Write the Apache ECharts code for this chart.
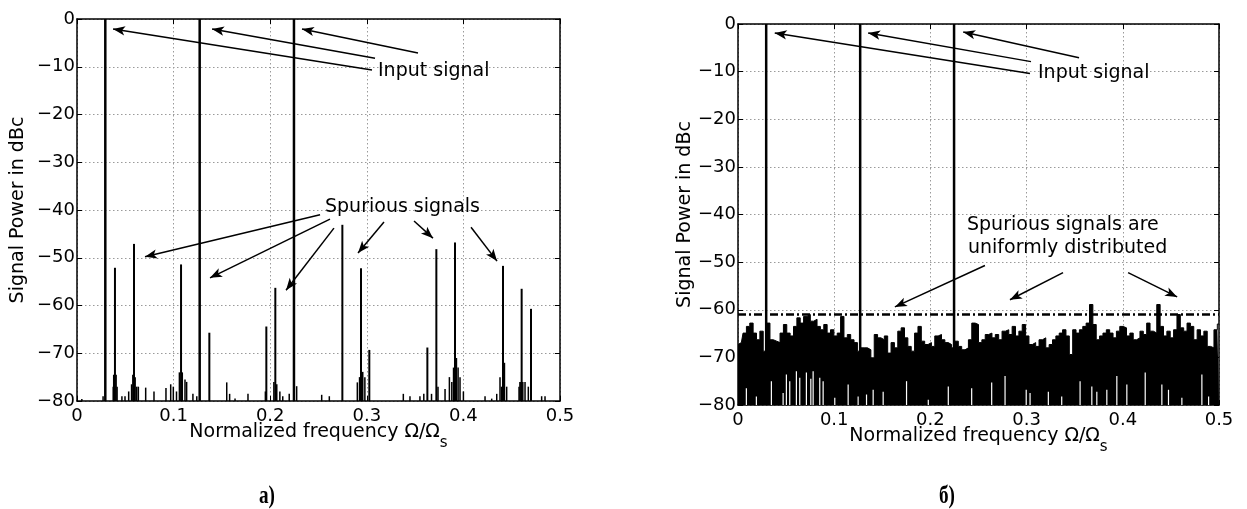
<!DOCTYPE html>
<html><head><meta charset="utf-8">
<script src="https://cdn.jsdelivr.net/npm/echarts@6/dist/echarts.min.js"></script>
<style>html,body{margin:0;padding:0;background:#fff}#c{width:1247px;height:509px}</style>
</head><body><div id="c"></div>
<script>
// ---------- tick labels ----------
const xTickLabels = ['0', '0.1', '0.2', '0.3', '0.4', '0.5'];
const yTickLabels = ['0', '\u221210', '\u221220', '\u221230', '\u221240', '\u221250', '\u221260', '\u221270', '\u221280'];

// ---------- input signal tones (both panels) ----------
const inputFreqs = [0.0293, 0.127, 0.2246];
const inputLevels = [0, 0, 0];

// ---------- panel a): spurious signals ----------
const spurFreqA  = [0.0393, 0.059, 0.1077, 0.137, 0.196, 0.2053, 0.2747, 0.294, 0.3026, 0.3627, 0.372, 0.3913, 0.441, 0.4603, 0.47];
const spurLevelA = [-52.1, -47.1, -51.4, -65.7, -64.4, -56.3, -43.1, -52.2, -69.3, -68.8, -48.2, -46.8, -51.7, -56.5, -60.7];

// small components near the -80 dB floor (panel a)
const floorFreqA = [0.005, 0.027, 0.0375, 0.038, 0.0405, 0.0415, 0.0465, 0.0497, 0.0535, 0.0565, 0.0578, 0.0602, 0.0618, 0.0635,
  0.0711, 0.0797, 0.0921, 0.097, 0.0997, 0.103, 0.106, 0.109, 0.1118, 0.1135, 0.12, 0.124, 0.155, 0.158, 0.1636, 0.177,
  0.195, 0.2038, 0.2068, 0.21, 0.213, 0.2197, 0.2274, 0.2533, 0.2612, 0.2902, 0.2925, 0.2958, 0.298, 0.3378, 0.3447,
  0.355, 0.359, 0.367, 0.3737, 0.381, 0.3855, 0.388, 0.3898, 0.3928, 0.3945, 0.3965, 0.4, 0.4224, 0.4293, 0.4345,
  0.4379, 0.4395, 0.4425, 0.4448, 0.4576, 0.4585, 0.4595, 0.4615, 0.4638, 0.4672, 0.481, 0.4845];
const floorLevelA = [-79.6, -79, -77, -74.5, -74.5, -77, -79, -79, -78, -76.5, -74.5, -75, -77, -77,
  -77.2, -78, -77.3, -76.5, -77, -78, -74, -74, -75.5, -76, -78.5, -79, -76.1, -78.5, -79.5, -78.5,
  -78, -76, -76.5, -78, -79, -78.5, -76.9, -78.7, -79, -76.1, -75, -73.9, -75, -78.5, -79,
  -79, -78.5, -78.5, -77, -77.5, -75, -76, -73, -71, -73, -75, -78, -79, -79.5, -78.5,
  -75, -77, -72, -77, -77, -76, -76, -76, -76, -77, -79, -79];

// ---------- panel б): noise floor (upper envelope per bin, dBc) ----------
const noiseLevelB = [
  -67.3, -66.9, -64.9, -63.5, -62.8, -64.9, -66.3, -64.5, -68.7, -62.8,
  -66.3, -66.6, -66.9, -64.9, -63.1, -64.9, -65.5, -63.5, -61.7, -62.8,
  -61.4, -61.0, -62.4, -62.0, -63.5, -64.2, -63.1, -64.9, -64.2, -65.5,
  -64.9, -61.4, -65.9, -65.2, -66.3, -66.9, -68.7, -68.0, -68.0, -68.4,
  -70.1, -65.2, -65.9, -66.3, -65.5, -69.1, -66.9, -68.0, -64.5, -63.8,
  -65.9, -67.7, -68.7, -64.9, -63.5, -66.6, -67.3, -66.9, -67.7, -65.5,
  -65.2, -66.3, -66.9, -67.3, -68.0, -66.6, -67.7, -68.4, -68.0, -66.3,
  -62.8, -63.1, -66.9, -66.3, -65.2, -64.9, -65.9, -65.2, -66.3, -64.5,
  -64.2, -65.2, -63.5, -65.5, -64.5, -63.1, -65.5, -67.3, -66.9, -67.7,
  -66.3, -65.9, -68.0, -67.3, -66.3, -65.5, -64.9, -64.2, -65.5, -69.4,
  -64.2, -64.9, -64.2, -63.5, -62.8, -58.9, -63.1, -66.3, -65.5, -64.9,
  -64.2, -64.9, -65.9, -64.5, -63.5, -63.8, -65.5, -64.9, -66.3, -65.9,
  -64.5, -65.2, -62.8, -64.5, -64.9, -58.9, -63.5, -65.5, -64.5, -65.9,
  -64.2, -61.0, -63.8, -64.5, -62.8, -63.5, -66.3, -64.2, -65.5, -64.5,
  -67.7, -68.0, -64.2, -63.0];
const noiseBinWidthB = 0.5 / 143;

// deep dips of the noise (white slivers from the floor), panel б)
const dipFreqB = [0.0087, 0.0191, 0.0347, 0.0469, 0.0503, 0.0538, 0.0607, 0.0642, 0.0711, 0.0757, 0.0781, 0.085, 0.0885,
  0.1006, 0.1145, 0.1249, 0.1336, 0.1405, 0.1509, 0.1752, 0.1978, 0.2186, 0.2429, 0.2637, 0.2776, 0.2996, 0.3036,
  0.3226, 0.3365, 0.3556, 0.3678, 0.373, 0.3834, 0.3938, 0.4042, 0.4233, 0.4406, 0.4475, 0.4614, 0.4822, 0.4892];
const dipLevelB = [-76.5, -78.2, -75.0, -77.5, -73.6, -75.0, -72.9, -74.3, -73.2, -74.5, -72.9, -74.3, -75.0,
  -78.5, -75.7, -78.2, -77.8, -76.8, -77.2, -75.0, -78.9, -76.1, -76.5, -75.3, -73.9, -76.8, -77.5,
  -77.2, -78.2, -75.0, -76.1, -77.2, -76.8, -73.9, -75.7, -73.2, -75.7, -76.8, -78.5, -73.6, -78.2];

// level that bounds the spurious signals in panel б)
const spurBoundB = -61;

// ---------- annotation arrows (from [f, dB] to [f, dB]) ----------
const inputArrowsA = [[0.3054, -10.7, 0.0373, -2.1], [0.3085, -8.2, 0.1398, -2.1], [0.353, -7.1, 0.2329, -2.1]];
const spurArrowsA = [[0.2516, -41.0, 0.0704, -49.8], [0.2619, -41.9, 0.1377, -54.2], [0.266, -43.8, 0.2164, -56.8],
  [0.3178, -42.5, 0.2909, -49.0], [0.3489, -42.3, 0.3685, -45.9], [0.4079, -43.6, 0.4348, -50.7]];
const inputArrowsB = [[0.3035, -10.4, 0.0382, -1.9], [0.3046, -7.9, 0.1353, -1.9], [0.3545, -7.1, 0.2341, -1.7]];
const spurArrowsB = [[0.2567, -50.7, 0.1631, -59.4], [0.3379, -52.2, 0.2827, -57.9], [0.4055, -52.2, 0.4565, -57.3]];

// ================================================================
const FONT = "'DejaVu Sans', sans-serif";
const pairs = (xs, ys) => xs.map((x, i) => [x, ys[i]]);
const noiseData = noiseLevelB.map((v, i) => [i * noiseBinWidthB, v]);

function spike(width, color) {
  return function (params, api) {
    const p = api.coord([api.value(0), api.value(1)]);
    const b = api.coord([api.value(0), -80]);
    return { type: 'line', shape: { x1: p[0], y1: p[1], x2: b[0], y2: b[1] },
      style: { stroke: color, lineWidth: width } };
  };
}
function spikeSeries(grid, data, width, color, z) {
  return { type: 'custom', xAxisIndex: grid * 2, yAxisIndex: grid * 2, data: data,
    renderItem: spike(width, color), z: z, silent: true, clip: true, animation: false };
}
function arrowSeries(grid, arrows) {
  return { type: 'line', xAxisIndex: grid * 2, yAxisIndex: grid * 2, data: [], silent: true, z: 20,
    markLine: { silent: true, animation: false, symbol: ['none', 'arrow'], symbolSize: [7, 12],
      label: { show: false }, lineStyle: { color: '#000', width: 1.5, type: 'solid' },
      data: arrows.map(a => [{ coord: [a[0], a[1]] }, { coord: [a[2], a[3]] }]) } };
}
const xName = '{a|Normalized frequency \u03A9/\u03A9}{s|s}';
function xAx(grid, main) {
  return { type: 'value', gridIndex: grid, position: main ? 'bottom' : 'top', min: 0, max: 0.5, interval: 0.1,
    axisLine: { show: true, onZero: false, lineStyle: { color: '#000', width: 1.5 } },
    axisTick: { show: true, inside: true, length: 5, lineStyle: { color: '#000', width: 1 } },
    axisLabel: { show: main, margin: 6, fontSize: 18, fontFamily: FONT, color: '#000',
      formatter: v => xTickLabels[Math.round(v / 0.1)] },
    splitLine: { show: main, lineStyle: { color: '#9a9a9a', type: [1.5, 2.5], width: 1 } },
    name: main ? xName : '', nameLocation: 'middle', nameGap: 13, nameMoveOverlap: false,
    nameTextStyle: { color: '#000', fontFamily: FONT,
      rich: { a: { fontSize: 19, fontFamily: FONT, color: '#000' },
              s: { fontSize: 15, fontFamily: FONT, color: '#000', padding: [22, 0, 0, 0] } } } };
}
function yAx(grid, main) {
  return { type: 'value', gridIndex: grid, position: main ? 'left' : 'right', min: -80, max: 0, interval: 10,
    axisLine: { show: true, onZero: false, lineStyle: { color: '#000', width: 1.5 } },
    axisTick: { show: true, inside: true, length: 5, lineStyle: { color: '#000', width: 1 } },
    axisLabel: { show: main, margin: 2, fontSize: 18, fontFamily: FONT, color: '#000',
      formatter: v => yTickLabels[Math.round(-v / 10)] },
    splitLine: { show: main, lineStyle: { color: '#9a9a9a', type: [1.5, 2.5], width: 1 } },
    name: main ? 'Signal Power in dBc' : '', nameLocation: 'middle', nameGap: grid === 0 ? 49 : 43,
    nameMoveOverlap: false,
    nameTextStyle: { fontSize: 19, fontFamily: FONT, color: '#000' } };
}

const chart = echarts.init(document.getElementById('c'), null, { renderer: 'canvas' });
const txt = (x, y, t) => ({ type: 'text', x: x, y: y, z: 100,
  style: { text: t, font: '19px ' + FONT, fill: '#000', textVerticalAlign: 'middle' } });
const caption = (x, y, t) => ({ type: 'text', x: x, y: y, z: 100, scaleX: 0.8, scaleY: 1.05,
  style: { text: t, font: 'bold 24px "Liberation Serif", serif', fill: '#000', textAlign: 'center', textVerticalAlign: 'middle' } });

chart.setOption({
  animation: false,
  backgroundColor: '#fff',
  grid: [
    { left: 77, top: 19, width: 483, height: 382 },
    { left: 738, top: 24, width: 481, height: 381 }
  ],
  xAxis: [xAx(0, true), xAx(0, false), xAx(1, true), xAx(1, false)],
  yAxis: [yAx(0, true), yAx(0, false), yAx(1, true), yAx(1, false)],
  series: [
    // panel a
    spikeSeries(0, pairs(floorFreqA, floorLevelA), 1.5, '#000', 3),
    spikeSeries(0, pairs(spurFreqA, spurLevelA), 2, '#000', 4),
    spikeSeries(0, pairs(inputFreqs, inputLevels), 2.5, '#000', 5),
    arrowSeries(0, inputArrowsA),
    arrowSeries(0, spurArrowsA),
    // panel b
    { type: 'line', xAxisIndex: 2, yAxisIndex: 2, data: noiseData, step: 'middle', symbol: 'none',
      lineStyle: { color: '#000', width: 1 }, areaStyle: { color: '#000', opacity: 1, origin: 'start' },
      z: 3, silent: true, animation: false },
    spikeSeries(1, pairs(dipFreqB, dipLevelB), 1.2, '#fff', 4),
    spikeSeries(1, pairs(inputFreqs, inputLevels), 2.5, '#000', 5),
    { type: 'line', xAxisIndex: 2, yAxisIndex: 2, data: [[0, spurBoundB], [0.5, spurBoundB]], symbol: 'none',
      lineStyle: { color: '#000', width: 2.5, type: [8, 3, 2, 3] }, z: 6, silent: true, animation: false },
    arrowSeries(1, inputArrowsB),
    arrowSeries(1, spurArrowsB)
  ],
  graphic: [
    txt(378, 71, 'Input signal'),
    txt(325, 207, 'Spurious signals'),
    txt(1038, 73, 'Input signal'),
    txt(967, 225, 'Spurious signals are'),
    txt(968, 248, 'uniformly distributed'),
    caption(267, 496, '\u0430)'),
    caption(947, 496, '\u0431)')
  ]
});
</script>
</body></html>
